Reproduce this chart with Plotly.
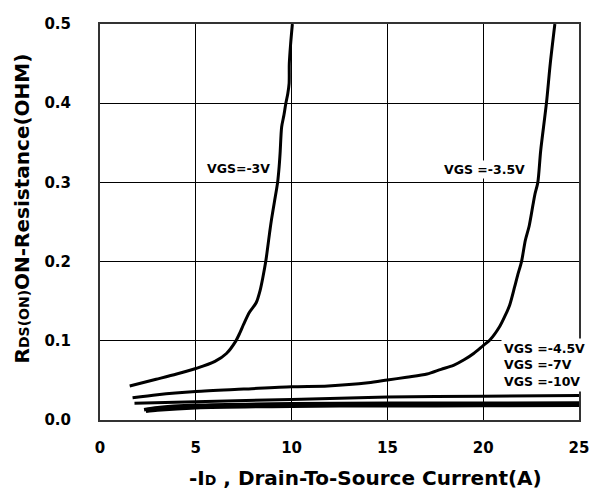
import plotly.graph_objects as go

# ---- data ----
x_vgs3 = [1.55, 2.93, 4.0, 5.0, 6.0, 6.6, 7.07, 7.3, 7.5, 7.8, 8.15, 8.36, 8.5, 8.65, 8.85, 8.95, 9.1, 9.27, 9.35, 9.4, 9.48, 9.6, 9.7, 9.8, 9.87, 9.88, 9.95, 10.04]
y_vgs3 = [0.043, 0.0514, 0.058, 0.065, 0.074, 0.084, 0.099, 0.110, 0.121, 0.136, 0.148, 0.164, 0.180, 0.200, 0.236, 0.253, 0.275, 0.300, 0.320, 0.337, 0.370, 0.385, 0.400, 0.412, 0.425, 0.450, 0.475, 0.500]

x_vgs35 = [1.7, 3.0, 5.0, 7.5, 10.0, 11.9, 14.0, 15.0, 16.0, 17.07, 17.8, 18.45, 19.0, 19.5, 20.0, 20.35, 20.86, 21.15, 21.38, 21.64, 21.8, 22.0, 22.2, 22.4, 22.6, 22.7, 22.85, 23.0, 23.3, 23.5, 23.74]
y_vgs35 = [0.028, 0.032, 0.036, 0.039, 0.042, 0.043, 0.047, 0.0505, 0.054, 0.058, 0.064, 0.069, 0.076, 0.084, 0.094, 0.101, 0.118, 0.132, 0.145, 0.168, 0.183, 0.200, 0.227, 0.245, 0.272, 0.285, 0.300, 0.340, 0.400, 0.450, 0.500]

x_vgs45 = [1.8, 5.0, 10.0, 15.0, 20.0, 25.0]
y_vgs45 = [0.021, 0.023, 0.026, 0.029, 0.030, 0.031]

x_vgs7 = [2.3, 3.0, 5.0, 10.0, 15.0, 20.0, 25.0]
y_vgs7 = [0.013, 0.0155, 0.0185, 0.0205, 0.021, 0.0212, 0.0215]

x_vgs10 = [2.4, 3.0, 5.0, 10.0, 15.0, 20.0, 25.0]
y_vgs10 = [0.011, 0.0125, 0.0155, 0.0175, 0.018, 0.0182, 0.0185]

x_ticks = [0, 5, 10, 15, 20, 25]
y_ticks = [0.0, 0.1, 0.2, 0.3, 0.4, 0.5]

FONT = "DejaVu Sans"

fig = go.Figure()
for xs, ys, w in [(x_vgs3, y_vgs3, 3), (x_vgs35, y_vgs35, 3), (x_vgs45, y_vgs45, 3),
                  (x_vgs7, y_vgs7, 3.5), (x_vgs10, y_vgs10, 3.5)]:
    fig.add_trace(go.Scatter(x=xs, y=ys, mode="lines",
                             line=dict(color="black", width=w, shape="spline", smoothing=0.8),
                             showlegend=False, hoverinfo="skip"))

ann_font = dict(family=FONT, size=12.5, color="black", weight="bold")
fig.add_annotation(x=7.25, y=0.317, text="VGS=-3V", showarrow=False, font=ann_font,
                   bgcolor="white", borderpad=1)
fig.add_annotation(x=20.05, y=0.316, text="VGS =-3.5V", showarrow=False, font=ann_font,
                   bgcolor="white", borderpad=1)
fig.add_annotation(x=23.2, y=0.069, text="VGS =-4.5V<br>VGS =-7V<br>VGS =-10V", showarrow=False,
                   font=ann_font, bgcolor="white", borderpad=2, align="left")

fig.add_annotation(xref="paper", yref="paper", x=0.555, y=-0.146, yanchor="middle",
                   text='-I<span style="font-size:14px">D</span> , Drain-To-Source Current(A)',
                   showarrow=False, font=dict(family=FONT, size=20, color="black", weight="bold"))
fig.add_annotation(xref="paper", yref="paper", x=-0.163, y=0.534, xanchor="center", yanchor="middle",
                   textangle=-90,
                   text='R<span style="font-size:14px">DS(ON)</span>ON-Resistance(OHM)',
                   showarrow=False, font=dict(family=FONT, size=20, color="black", weight="bold"))

fig.update_xaxes(range=[0, 25], tickvals=x_ticks, ticktext=[str(v) for v in x_ticks],
                 showgrid=True, gridcolor="black", gridwidth=1,
                 showline=True, linecolor="#333", linewidth=2, mirror=True,
                 ticks="", ticklabelstandoff=13, zeroline=False,
                 tickfont=dict(family=FONT, size=15, color="black", weight="bold"))
fig.update_yaxes(range=[0, 0.5], tickvals=y_ticks, ticktext=[f"{v:.1f}" for v in y_ticks],
                 showgrid=True, gridcolor="black", gridwidth=1,
                 showline=True, linecolor="#333", linewidth=2, mirror=True,
                 ticks="", ticklabelstandoff=24, zeroline=False,
                 tickfont=dict(family=FONT, size=15, color="black", weight="bold"))

fig.update_layout(width=601, height=499, margin=dict(l=100, r=17, t=24, b=79),
                  paper_bgcolor="white", plot_bgcolor="white")

fig.write_html("out.html")
